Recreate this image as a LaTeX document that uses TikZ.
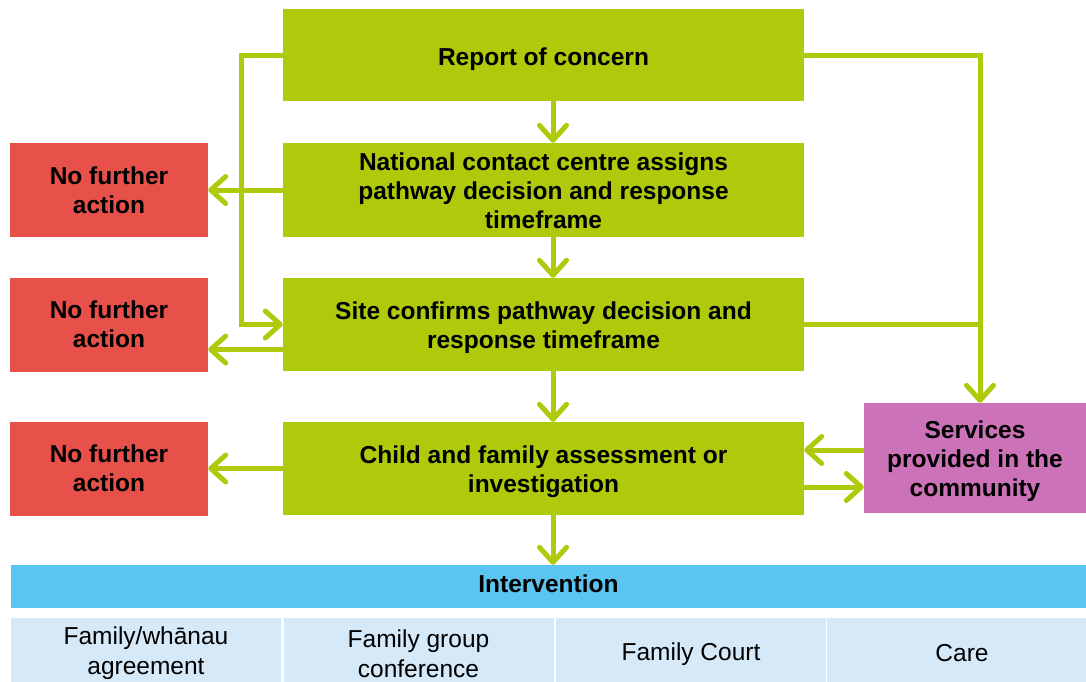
\documentclass[tikz,border=0pt]{standalone}
\usepackage{fontspec}
\setmainfont{Liberation Sans}
\usetikzlibrary{arrows.meta}
\definecolor{cgreen}{HTML}{AFCA0B}
\definecolor{cred}{HTML}{E8504A}
\definecolor{cpurple}{HTML}{CC72B8}
\definecolor{cblue}{HTML}{5BC5F2}
\definecolor{clblue}{HTML}{D5E9F8}
\newcommand\dnr[1]{\rule{0pt}{\dimexpr17.8pt+#1*2\relax}}
\tikzset{
  box/.style={draw=none, inner sep=0pt, align=center, font=\fontsize{24.5}{29}\selectfont\bfseries, text=black},
  gbox/.style={box, fill=cgreen, minimum width=521pt},
  rbox/.style={box, fill=cred, minimum width=198pt, minimum height=94pt},
  pbox/.style={box, fill=cpurple, minimum width=222pt, minimum height=110pt},
  ibar/.style={box, fill=cblue, minimum width=1075pt, minimum height=43pt},
  cell/.style={box, fill=clblue, font=\fontsize{24.5}{30}\selectfont, minimum width=270pt, minimum height=64pt},
  conn/.style={draw=cgreen, line width=5pt},
  arr/.style={conn, -{Straight Barb[length=15pt,width=27pt,line cap=round,line join=round]}}
}
\begin{document}
\begin{tikzpicture}[x=1pt,y=-1pt]
\useasboundingbox (0,0) rectangle (1086,681);
\node[gbox, minimum height=92pt] (roc) at (543.5,55) {\dnr{4pt}Report of concern};
\node[gbox, minimum height=94pt] (ncc) at (543.5,190) {\dnr{1pt}National contact centre assigns\\pathway decision and response\\timeframe};
\node[gbox, minimum height=93pt] (site) at (543.5,324.5) {\dnr{3pt}Site confirms pathway decision and\\response timeframe};
\node[gbox, minimum height=93pt] (cfa) at (543.5,468.5) {\dnr{3pt}Child and family assessment or\\investigation};
\node[rbox] (nfa1) at (109,190) {No further\\action};
\node[rbox] (nfa2) at (109,324.5) {No further\\action};
\node[rbox] (nfa3) at (109,468.5) {No further\\action};
\node[pbox] (svc) at (975,458) {\dnr{3.5pt}Services\\provided in the\\community};
\node[ibar] (int) at (548.5,586.5) {Intervention\rule[-6pt]{0pt}{6pt}};
\node[cell] (c1) at (146,649.5) {\dnr{4pt}Family/whānau\\agreement};
\node[cell] (c2) at (418.5,649.5) {\dnr{4pt}Family group\\conference};
\node[cell] (c3) at (691,649.5) {\dnr{5pt}Family Court};
\node[cell] (c4) at (962,649.5) {\dnr{3pt}Care};
\coordinate (L) at (241,0);
\coordinate (R) at (980,0);
\coordinate (M) at (553,0);
\draw[arr] (roc.south -| M) -- (ncc.north -| M);
\draw[arr] (ncc.south -| M) -- (site.north -| M);
\draw[arr] (site.south -| M) -- (cfa.north -| M);
\draw[arr] (cfa.south -| M) -- (int.north -| M);
\draw[arr] (roc.west) -- (roc.west -| L) |- (site.west);
\draw[arr] (ncc.west) -- (nfa1.east);
\draw[arr] ([yshift=-25pt]site.west) -- ([yshift=-25pt]site.west -| nfa2.east);
\draw[arr] (cfa.west) -- (nfa3.east);
\draw[arr] (roc.east) -- (roc.east -| R) -- (R |- svc.north);
\draw[conn] (site.east) -- (site.east -| R);
\draw[arr] ([yshift=8pt]svc.west) -- ([yshift=8pt]svc.west -| cfa.east);
\draw[arr] ([yshift=-18.5pt]cfa.east) -- ([yshift=-18.5pt]cfa.east -| svc.west);
\end{tikzpicture}
\end{document}
